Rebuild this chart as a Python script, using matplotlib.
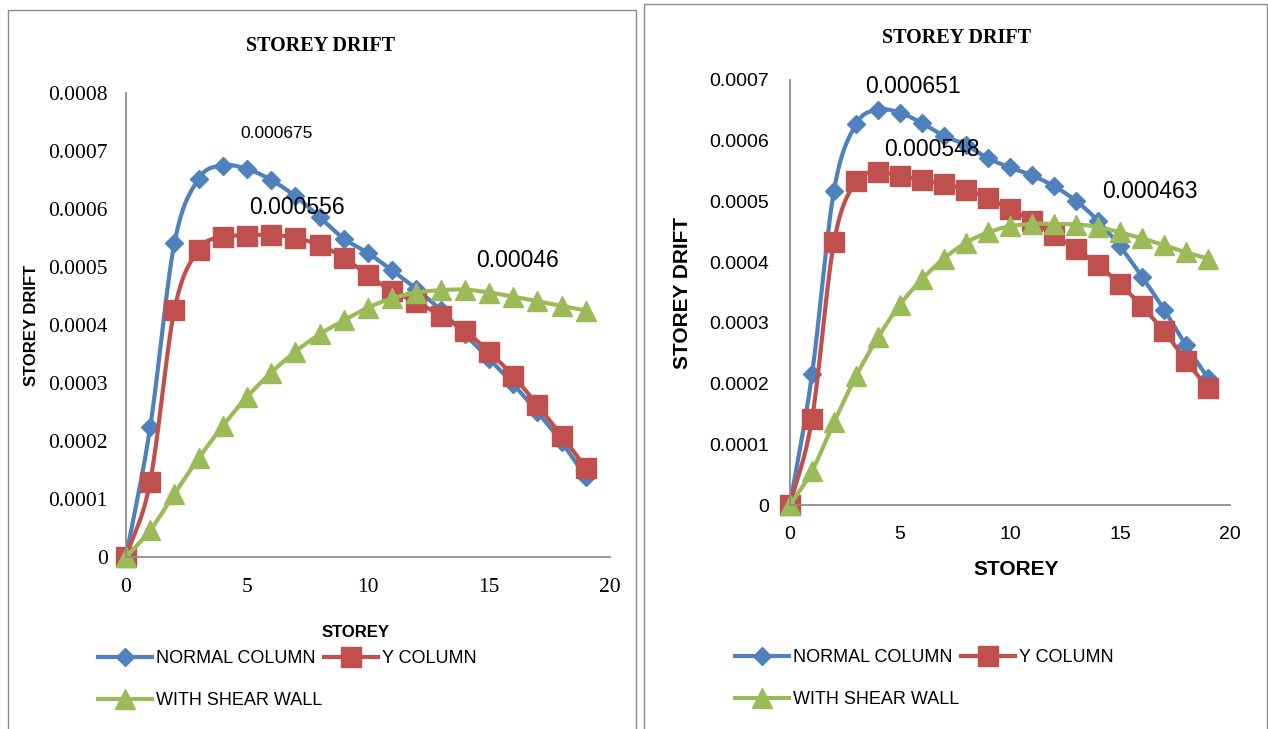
import matplotlib.pyplot as plt
import numpy as np
from matplotlib.lines import Line2D
from matplotlib.patches import Rectangle

# storey numbers (x)
storey = list(range(20))

# left chart values
left_normal = [0, 0.000224, 0.000541, 0.000652, 0.000675, 0.000669, 0.000650, 0.000622, 0.000586, 0.000549,
               0.000524, 0.000494, 0.000462, 0.000426, 0.000384, 0.000342, 0.000298, 0.000250, 0.000198, 0.000138]
left_ycol = [0, 0.000130, 0.000426, 0.000530, 0.000552, 0.000554, 0.000556, 0.000550, 0.000538, 0.000516,
             0.000486, 0.000458, 0.000440, 0.000416, 0.000390, 0.000354, 0.000312, 0.000262, 0.000209, 0.000154]
left_wall = [0, 0.000046, 0.000109, 0.000170, 0.000226, 0.000276, 0.000318, 0.000354, 0.000384, 0.000408,
             0.000430, 0.000446, 0.000456, 0.000460, 0.000461, 0.000456, 0.000449, 0.000441, 0.000433, 0.000425]

# right chart values
right_normal = [0, 0.000215, 0.000518, 0.000627, 0.000651, 0.000646, 0.000629, 0.000608, 0.000593, 0.000571,
                0.000556, 0.000543, 0.000525, 0.000501, 0.000468, 0.000426, 0.000376, 0.000322, 0.000263, 0.000209]
right_ycol = [0, 0.000142, 0.000433, 0.000533, 0.000548, 0.000542, 0.000535, 0.000529, 0.000519, 0.000506,
              0.000487, 0.000468, 0.000445, 0.000422, 0.000395, 0.000364, 0.000327, 0.000286, 0.000238, 0.000192]
right_wall = [0, 0.000056, 0.000136, 0.000212, 0.000276, 0.000330, 0.000372, 0.000406, 0.000432, 0.000449,
              0.000459, 0.000463, 0.000463, 0.000462, 0.000458, 0.000449, 0.000439, 0.000428, 0.000416, 0.000406]

series_names = ["NORMAL COLUMN", "Y COLUMN", "WITH SHEAR WALL"]

# tick labels
x_ticks = [0, 5, 10, 15, 20]
left_y_ticks = [0, 0.0001, 0.0002, 0.0003, 0.0004, 0.0005, 0.0006, 0.0007, 0.0008]
left_y_labels = ["0", "0.0001", "0.0002", "0.0003", "0.0004", "0.0005", "0.0006", "0.0007", "0.0008"]
right_y_ticks = [0, 0.0001, 0.0002, 0.0003, 0.0004, 0.0005, 0.0006, 0.0007]
right_y_labels = ["0", "0.0001", "0.0002", "0.0003", "0.0004", "0.0005", "0.0006", "0.0007"]

# data labels (text, x, y, size)
left_notes = [("0.000675", 6.24, 0.000731, 12.5), ("0.000556", 7.07, 0.000602, 16.5), ("0.00046", 16.16, 0.000512, 16.5)]
right_notes = [("0.000651", 5.59, 0.000689, 16.5), ("0.000548", 6.45, 0.000585, 16.5), ("0.000463", 16.36, 0.000517, 16.5)]

colours = ["#4F81BD", "#C0504D", "#9BBB59"]
markers = [("D", 9), ("s", 15), ("^", 14)]


def smooth(x, y, n=16):
    # Catmull-Rom style curve through the points (like Excel's smoothed line)
    x = np.asarray(x, float)
    y = np.asarray(y, float)
    px = np.concatenate([[2 * x[0] - x[1]], x, [2 * x[-1] - x[-2]]])
    py = np.concatenate([[2 * y[0] - y[1]], y, [2 * y[-1] - y[-2]]])
    t = np.linspace(0, 1, n, endpoint=False)
    xs, ys = [], []
    for i in range(1, len(px) - 2):
        for arr, out in ((px, xs), (py, ys)):
            p0, p1, p2, p3 = arr[i - 1], arr[i], arr[i + 1], arr[i + 2]
            c1 = p1 + (p2 - p0) / 6
            c2 = p2 - (p3 - p1) / 6
            out.extend((1 - t) ** 3 * p1 + 3 * (1 - t) ** 2 * t * c1 + 3 * (1 - t) * t ** 2 * c2 + t ** 3 * p2)
    xs.append(x[-1])
    ys.append(y[-1])
    return xs, ys


def draw_chart(ax, data, yticks, ylabels, tick_font, tick_size, lab_size, notes, xpad, ypad):
    for vals, c, (m, ms) in zip(data, colours, markers):
        sx, sy = smooth(storey, vals)
        ax.plot(sx, sy, color=c, lw=3, clip_on=False, solid_capstyle="round")
        ax.plot(storey, vals, ls="none", marker=m, ms=ms, color=c, clip_on=False)
    ax.set_xlim(0, 20)
    ax.set_ylim(yticks[0], yticks[-1])
    ax.set_xticks(x_ticks)
    ax.set_xticklabels([str(v) for v in x_ticks], family=tick_font, fontsize=tick_size)
    ax.set_yticks(yticks)
    ax.set_yticklabels(ylabels, family=tick_font, fontsize=tick_size)
    ax.tick_params(axis="x", length=0, pad=xpad)
    ax.tick_params(axis="y", length=0, pad=ypad)
    for s in ["top", "right"]:
        ax.spines[s].set_visible(False)
    for s in ["left", "bottom"]:
        ax.spines[s].set_color("#8C8C8C")
        ax.spines[s].set_linewidth(1.3)
    for txt, x, y, fs in notes:
        ax.text(x, y, txt, ha="center", va="center", fontsize=fs, family="Liberation Sans")
    ax.set_ylabel("STOREY DRIFT", fontsize=lab_size, fontweight="bold", family="Liberation Sans")


fig = plt.figure(figsize=(12.68, 7.29), dpi=100)

# chart borders
fig.patches.append(Rectangle((8 / 1268, -0.05), 628 / 1268, 1.05 - 10 / 729, transform=fig.transFigure,
                             fill=False, ec="#8C8C8C", lw=1))
fig.patches.append(Rectangle((644 / 1268, -0.05), 623 / 1268, 1.05 - 4 / 729, transform=fig.transFigure,
                             fill=False, ec="#8C8C8C", lw=1))

ax1 = fig.add_axes([126 / 1268, 1 - 557 / 729, 484 / 1268, 464 / 729])
draw_chart(ax1, [left_normal, left_ycol, left_wall], left_y_ticks, left_y_labels,
           "Liberation Serif", 15.5, 12, left_notes, 15, 13)
ax1.yaxis.set_label_coords(-0.18, 0.5)
ax1.set_xlabel("STOREY", fontsize=12, fontweight="bold", family="Liberation Sans")
ax1.xaxis.set_label_coords(0.475, -0.147)

ax2 = fig.add_axes([790 / 1268, 1 - 505 / 729, 440 / 1268, 425 / 729])
draw_chart(ax2, [right_normal, right_ycol, right_wall], right_y_ticks, right_y_labels,
           "Liberation Sans", 14, 15, right_notes, 15, 15)
ax2.yaxis.set_label_coords(-0.222, 0.5)
ax2.set_xlabel("STOREY", fontsize=15, fontweight="bold", family="Liberation Sans")
ax2.xaxis.set_label_coords(0.515, -0.13)

# titles
fig.text(321 / 1268, 1 - 46 / 729, "STOREY DRIFT", ha="center", va="center", fontsize=14.5,
         fontweight="bold", family="Liberation Serif")
fig.text(956 / 1268, 1 - 38 / 729, "STOREY DRIFT", ha="center", va="center", fontsize=14.5,
         fontweight="bold", family="Liberation Serif")

# legends
handles = [Line2D([], [], color=c, lw=3, marker=m, ms=ms) for c, (m, ms) in zip(colours, markers)]
order = [0, 2, 1]
for x0, y0 in [(98, 650), (735, 649)]:
    fig.legend([handles[i] for i in order], [series_names[i] for i in order], ncol=2,
               loc="upper left", bbox_to_anchor=(x0 / 1268, 1 - y0 / 729), frameon=False,
               prop={"family": "Liberation Sans", "size": 13}, handlelength=3.0, handletextpad=0.2,
               columnspacing=0.1, labelspacing=1.4, borderpad=0, borderaxespad=0, numpoints=1)

fig.savefig("out.png", dpi=100)
